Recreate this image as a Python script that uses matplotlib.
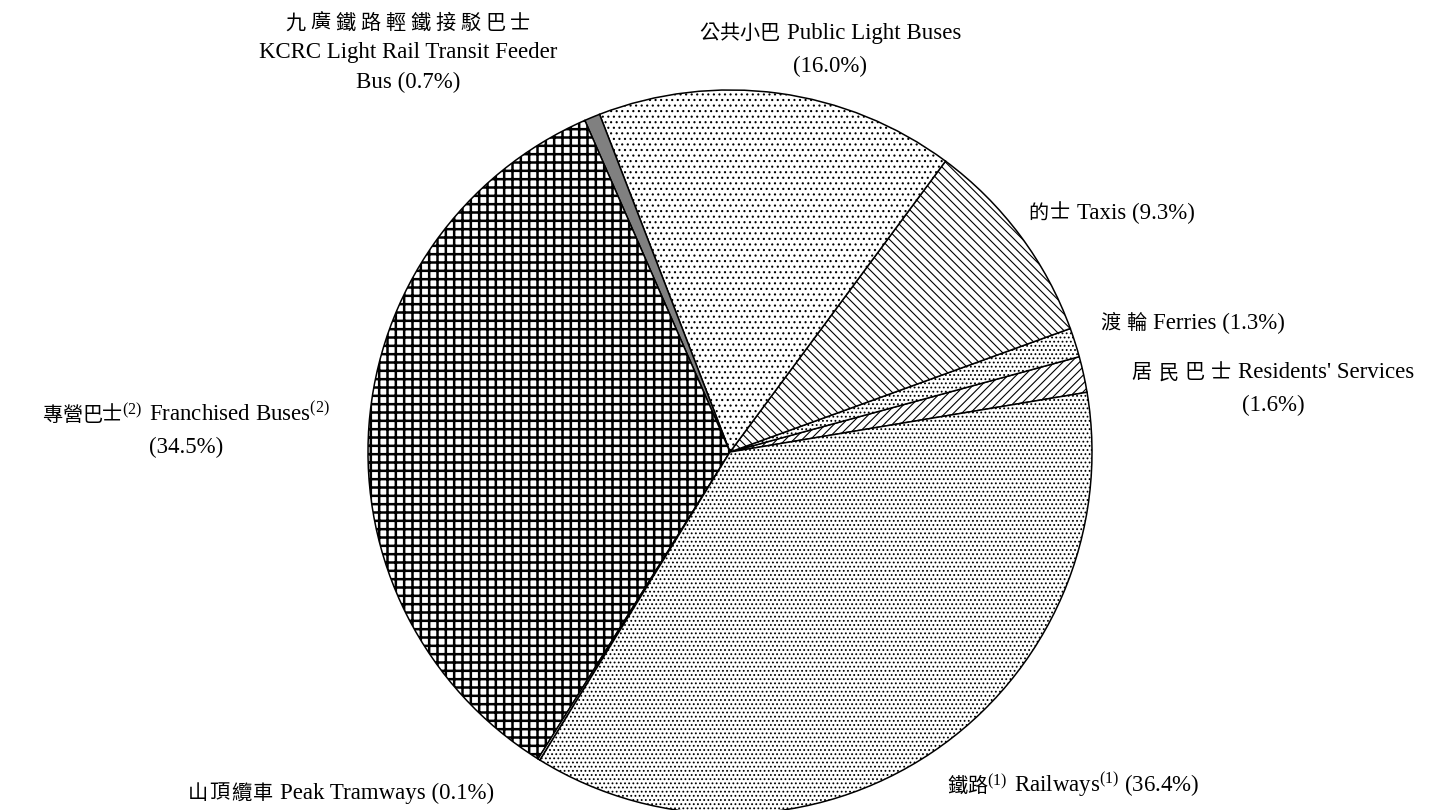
import matplotlib
matplotlib.use("Agg")
import matplotlib.pyplot as plt
from matplotlib.offsetbox import TextArea, HPacker, VPacker, AnnotationBbox

plt.rcParams['font.family'] = ['Liberation Serif', 'Noto Sans CJK TC']
plt.rcParams['mathtext.fontset'] = 'custom'
plt.rcParams['mathtext.rm'] = 'Liberation Serif'
plt.rcParams['mathtext.it'] = 'Liberation Serif:italic'
plt.rcParams['hatch.linewidth'] = 0.8

# modes, counterclockwise starting just above 3 o'clock
modes_zh = ['居民巴士', '渡輪', '的士', '公共小巴', '九廣鐵路輕鐵接駁巴士',
            '專營巴士', '山頂纜車', '鐵路']
modes_en = ["Residents' Services", 'Ferries', 'Taxis', 'Public Light Buses',
            'KCRC Light Rail Transit Feeder Bus', 'Franchised Buses',
            'Peak Tramways', 'Railways']
shares = [1.6, 1.3, 9.3, 16.0, 0.7, 34.5, 0.1, 36.4]
notes = ['', '', '', '', '', '(2)', '', '(1)']

EN_SIZE = 16.5
CJK_SIZE = 14.5

fig = plt.figure(figsize=(14.32, 8.10), dpi=100)
W, H = 1432, 810
cx, cy, r = 730, 810 - 452, 362
ax = fig.add_axes([(cx - r) / W, (cy - r) / H, 2 * r / W, 2 * r / H])

faces = ['white', 'white', 'white', 'white', '#808080', 'white', 'white', 'white']
hatches = ['////', '....', '\\\\\\\\', '...', None, '++', None, '....']

wedges, _ = ax.pie(shares, startangle=9.5, counterclock=True, colors=faces,
                   wedgeprops=dict(edgecolor='black', linewidth=1.1))
for w, h in zip(wedges, hatches):
    w.set_clip_on(False)
    if h:
        w.set_hatch(h)
if hasattr(wedges[5], 'set_hatch_linewidth'):
    wedges[5].set_hatch_linewidth(1.8)
ax.set_xlim(-1, 1)
ax.set_ylim(-1, 1)


def cjk(text, spacing=0):
    chars = [TextArea(c, textprops=dict(fontsize=CJK_SIZE,
                                        family=['Noto Sans CJK TC']))
             for c in text]
    return HPacker(children=chars, align='baseline', pad=0, sep=spacing)


def en(text):
    return TextArea(text, textprops=dict(fontsize=EN_SIZE, family='Liberation Serif'))


def row(*parts, sep=3):
    return HPacker(children=[p for p in parts if p is not None],
                   align='baseline', pad=0, sep=sep)


def name_row(i, spacing=0, with_pct=False):
    eng = modes_en[i] + (r'$^{%s}$' % notes[i] if notes[i] else '')
    if with_pct:
        eng += ' (%.1f%%)' % shares[i]
    head = cjk(modes_zh[i], spacing)
    if notes[i]:
        head = row(head, en(r'$^{%s}$' % notes[i]), sep=0)
    return row(head, en(eng), sep=5)


def pct(i):
    return en('(%.1f%%)' % shares[i])


def place(box, x, y, align):
    ab = AnnotationBbox(box, (x, y), xycoords='figure pixels',
                        box_alignment=align, frameon=False, pad=0)
    fig.add_artist(ab)


def stack(*rows, sep=8):
    return VPacker(children=list(rows), align='center', pad=0, sep=sep)


# Residents' Services
place(stack(name_row(0, spacing=4.5), pct(0)), 1273, H - 389, (0.5, 0.5))
# Ferries
place(name_row(1, spacing=4.5, with_pct=True), 1100, H - 323, (0, 0.5))
# Taxis
place(name_row(2, spacing=1, with_pct=True), 1028, H - 213, (0, 0.5))
# Public Light Buses
place(stack(name_row(3), pct(3)), 830, H - 50, (0.5, 0.5))
# KCRC feeder bus
first, last = modes_en[4].rsplit(' ', 1)
place(stack(cjk(modes_zh[4], spacing=3.5),
            en(first), en('%s (%.1f%%)' % (last, shares[4])), sep=6),
      408, H - 53, (0.5, 0.5))
# Franchised buses
place(stack(name_row(5), pct(5)), 186, H - 430, (0.5, 0.5))
# Peak Tramways
place(name_row(6, spacing=1, with_pct=True), 188, H - 793, (0, 0.5))
# Railways
place(name_row(7, with_pct=True), 947, H - 785, (0, 0.5))

fig.savefig('out.png', dpi=100)
